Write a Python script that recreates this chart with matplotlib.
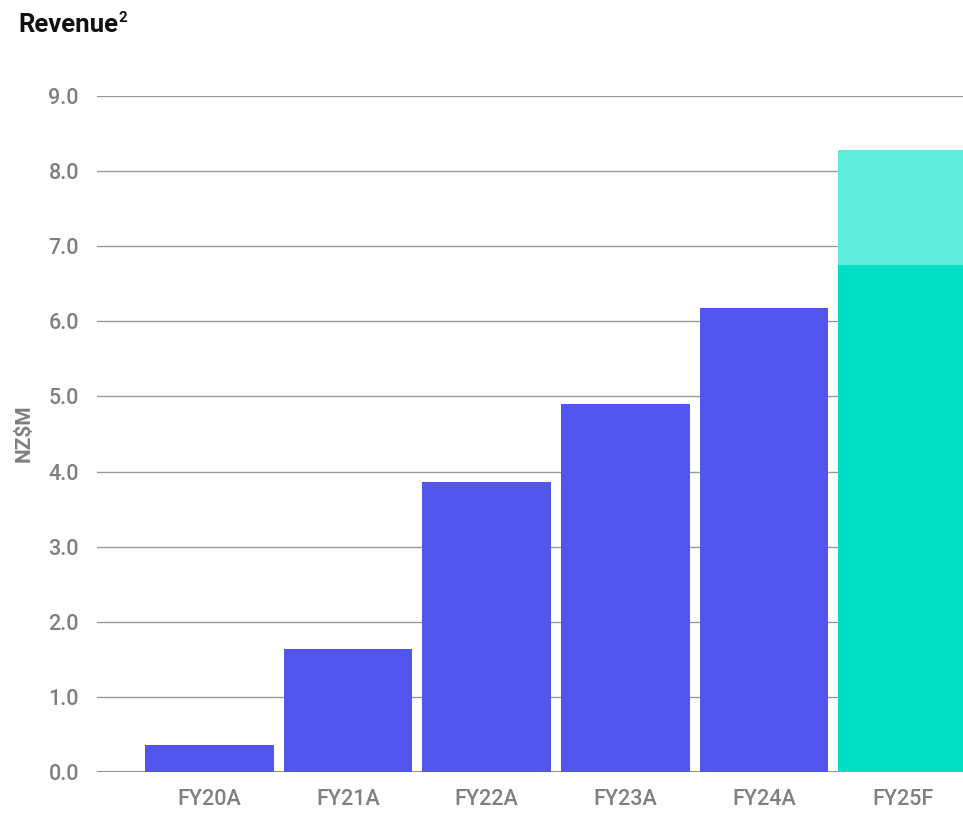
import matplotlib.pyplot as plt

plt.rcParams['font.family'] = ['Roboto', 'DejaVu Sans']

categories = ['FY20A', 'FY21A', 'FY22A', 'FY23A', 'FY24A', 'FY25F']
revenue = [0.36, 1.64, 3.86, 4.90, 6.18, 6.75]
forecast_upper = [0, 0, 0, 0, 0, 8.28]
yticks = [0.0, 1.0, 2.0, 3.0, 4.0, 5.0, 6.0, 7.0, 8.0, 9.0]

blue = '#5356EE'
teal = '#00DEC4'
light_teal = '#5EEBDA'
grey = '#7f7f7f'

W, H = 963, 816
fig = plt.figure(figsize=(W / 100, H / 100), dpi=100)
# axes runs past the right edge of the figure, like the cropped original
ax = fig.add_axes([97 / W, (H - 772) / H, (1015 - 97) / W, (772 - 96) / H])

x = list(range(len(categories)))
colors = [blue] * 5 + [teal]
extra = [u - r if u > 0 else 0 for u, r in zip(forecast_upper, revenue)]
ax.bar(x, revenue, width=0.93, color=colors, zorder=3)
ax.bar(x, extra, bottom=revenue, width=0.93, color=light_teal, zorder=3)

ax.set_xlim(-0.81, 5.81)
ax.set_ylim(0, 9)
ax.set_yticks(yticks)
ax.set_yticklabels([f'{v:.1f}' for v in yticks])
ax.set_xticks(x)
ax.set_xticklabels(categories)

ax.grid(axis='y', color='#9a9a9a', linewidth=1.0, zorder=0)
ax.axhline(0, color='#8a8a8a', linewidth=1.3, zorder=2)
for s in ax.spines.values():
    s.set_visible(False)
ax.tick_params(axis='both', length=0, labelsize=15.5, labelcolor=grey)
ax.tick_params(axis='y', pad=13)
ax.tick_params(axis='x', pad=12)
for lbl in ax.get_xticklabels() + ax.get_yticklabels():
    lbl.set_fontweight('medium')

fig.text(24 / W, 1 - 433 / H, 'NZ$M', rotation=90, ha='center', va='center',
         fontsize=15, color=grey, fontweight='bold')
fig.text(18 / W, 1 - 32 / H, 'Revenue', ha='left', va='baseline',
         fontsize=18.5, fontweight='bold', color='#111111')
fig.text(118 / W, 1 - 22 / H, '2', ha='left', va='baseline',
         fontsize=11, fontweight='bold', color='#111111')

fig.savefig('out.png', dpi=100)
